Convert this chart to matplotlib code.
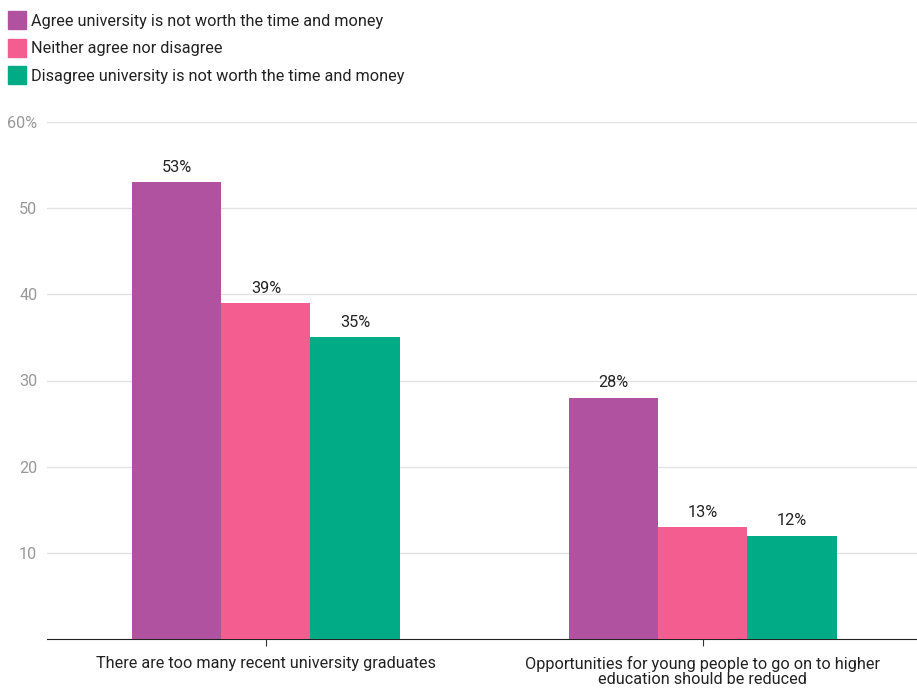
import matplotlib.pyplot as plt
import matplotlib.patches as mpatches
import numpy as np

plt.rcParams['font.family'] = ['Roboto', 'DejaVu Sans']

categories = ['There are too many recent university graduates',
              'Opportunities for young people to go on to higher\neducation should be reduced']
series = ['Agree university is not worth the time and money',
          'Neither agree nor disagree',
          'Disagree university is not worth the time and money']
agree = [53, 28]
neither = [39, 13]
disagree = [35, 12]
colors = ['#B0529F', '#F35D8F', '#00AB86']

fig = plt.figure(figsize=(9.17, 6.88), dpi=100)
ax = fig.add_axes([47 / 917, 49 / 688, 870 / 917, 517 / 688])

fs = 11.7
x = np.arange(len(categories))
w = 0.204
for i, (vals, c) in enumerate(zip([agree, neither, disagree], colors)):
    bars = ax.bar(x + (i - 1) * w, vals, w, color=c, zorder=3)
    for b, v in zip(bars, vals):
        ax.text(b.get_x() + b.get_width() / 2, v + 0.85, f'{v}%', ha='center',
                va='bottom', fontsize=fs, color='#222222')

ax.set_xlim(-0.501, 1.49)
ax.set_ylim(0, 60)
ax.set_yticks([10, 20, 30, 40, 50, 60])
ax.set_yticklabels(['10', '20', '30', '40', '50', '60%'])
ax.yaxis.grid(True, color='#e3e3e3', linewidth=1, zorder=0)
ax.tick_params(axis='y', length=0, labelsize=fs, labelcolor='#999999', pad=7)
ax.set_xticks(x)
ax.set_xticklabels(categories, fontsize=fs, color='#222222', linespacing=1.05)
ax.tick_params(axis='x', length=5, color='#333333', pad=7)
for s in ['top', 'right', 'left']:
    ax.spines[s].set_visible(False)
ax.spines['bottom'].set_color('#222222')

handles = [mpatches.Patch(color=c, label=s) for c, s in zip(colors, series)]
fig.legend(handles=handles, loc='upper left', bbox_to_anchor=(-0.004, 1.0),
           frameon=False, fontsize=fs, handlelength=1.1, handleheight=1.3,
           handletextpad=0.35, labelspacing=0.6, borderaxespad=0.3, labelcolor='#222222')

fig.savefig('out.png', dpi=100)
